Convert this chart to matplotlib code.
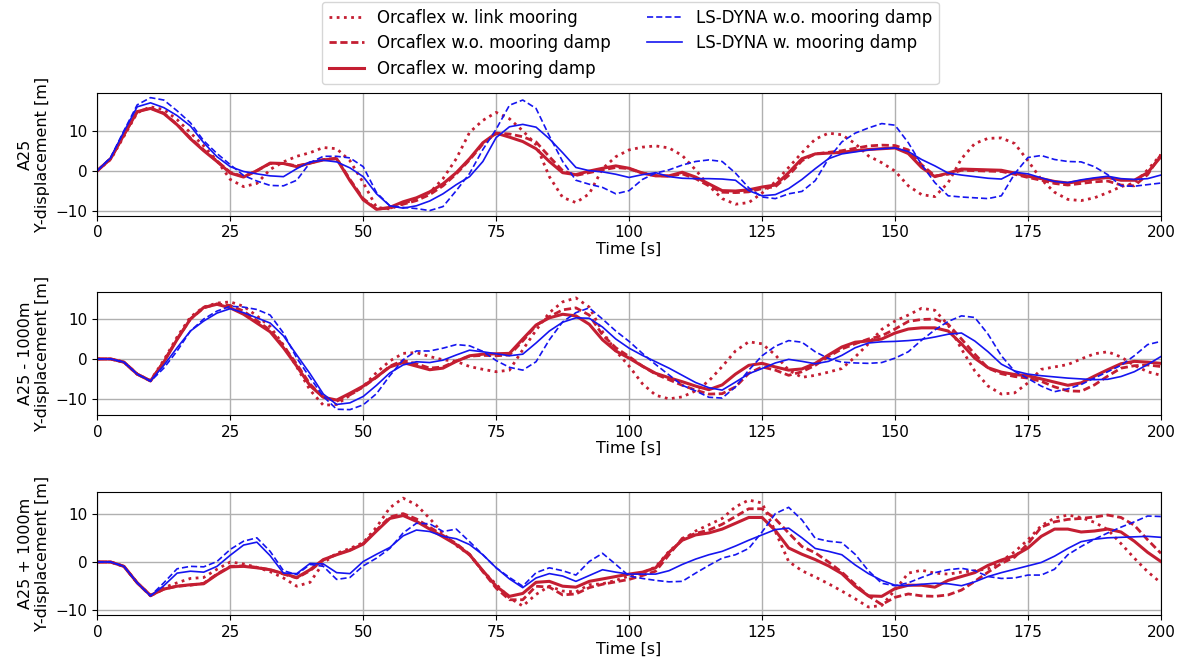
import numpy as np
import matplotlib
matplotlib.use("Agg")
import matplotlib.pyplot as plt

# time axis, seconds
t = np.arange(0, 200.01, 2.5)

# ---- A25 ----
a25_link = [0, 2.8, 8.6, 14.5, 16, 15.3, 12.8, 9.5, 6.2, 2.5, -2.2, -4, -3.2, 0.3, 2.2, 3.6, 4.5,
            5.8, 5.5, 2.5, -3, -9.2, -9.6, -8.3, -7, -5.5, -2, 3, 9.6, 12.6, 14.6, 13, 10, 6.5,
            -1.5, -6.7, -8, -5.8, 0.5, 3.5, 5.2, 5.9, 6.2, 5.7, 3.8, 0.2, -3.8, -7, -8.4, -8,
            -5.6, -2.8, 0.8, 4.5, 7.9, 9.4, 9, 6.8, 3.7, 2, -0.1, -3.8, -6, -6.5, -3, 3, 6.8,
            8.1, 8.2, 6.8, 2.5, -2.2, -5.4, -7.2, -7.5, -6.8, -5.5, -4, -3.1, 0.2, 4]
a25_nodamp = [0, 3, 9, 14.8, 15.7, 14.4, 11.6, 8.2, 5.2, 2.4, -0.4, -1.5, 0, 1.8, 1.8, 1.2, 1.9,
              2.8, 3.1, -2.2, -7, -9.6, -9.4, -8.4, -7.5, -6, -3.8, -0.8, 2.7, 6.7, 9.4, 9.2,
              8.5, 7.2, 3.5, 0, -1.2, -0.5, 0.2, 0.8, 0.5, -0.6, -1.2, -1.4, -0.8, -2, -3.8,
              -5.4, -5.5, -5.3, -4.5, -4, -1.2, 2.5, 4.2, 4.6, 5, 5.6, 6.2, 6.4, 6.3, 5.2, 1.5,
              -1.3, -0.9, 0.1, 0, -0.1, -0.2, -0.9, -1.7, -2.4, -3.2, -3.6, -3.2, -2.8, -2.6,
              -3.6, -3.8, -1, 4]
a25_damp = [0, 3, 9, 14.8, 15.6, 14.3, 11.5, 8, 5, 2.3, -0.6, -1.6, 0, 1.9, 1.8, 1, 1.9, 2.7,
            3, -2.5, -7.3, -9.7, -9.2, -7.8, -6.8, -5.3, -3.3, -0.5, 3, 7, 9.4, 8.4, 7.3, 5.5,
            2.3, -0.5, -1, -0.1, 0.6, 1.2, 0.6, -0.6, -1.3, -1.3, -0.4, -1.6, -3.3, -5, -5.1,
            -4.8, -4.1, -3.6, -0.5, 3, 4.2, 4.4, 4.6, 5, 5.3, 5.5, 5.7, 4.3, 0.8, -1.5, -0.6,
            0.4, 0.3, 0.2, 0.1, -0.6, -1.4, -2, -2.7, -3.1, -2.6, -2.1, -1.7, -2.4, -2.4,
            -0.5, 3.5]
a25_ls_nodamp = [0, 3.3, 10, 16.5, 18.3, 17.7, 15, 12, 7.5, 4.3, 1.5, -1.2, -2.6, -3.7, -3.8,
                 -2.4, 2, 3.6, 3.6, 3.2, 1, -5.5, -8.8, -9.2, -9.5, -10, -9, -5, -0.7, 5.3,
                 10.4, 16.4, 17.7, 15.6, 8.7, 2.3, -2.4, -3.4, -4.2, -5.8, -5, -2.2, -0.6, 0.2,
                 1.4, 2.3, 2.7, 2.3, -0.6, -4.3, -6.6, -7, -5.8, -5.2, -2.5, 3, 7.2, 9.4, 10.7,
                 11.8, 11.4, 7, 1.5, -3, -6.3, -6.6, -6.8, -7, -6.3, -0.8, 3.3, 3.8, 2.8, 2.3,
                 2.2, 1, -1, -3.8, -3.9, -3.5, -3.1]
a25_ls_damp = [0, 3.2, 9.8, 16, 17, 15.8, 13.8, 11.2, 7, 3.5, 1, -0.2, -0.8, -1.3, -1.5, 0.5,
               2.2, 2.6, 2.2, 0.7, -1.5, -5.8, -8.8, -9.4, -8.8, -7.6, -5.8, -3.5, -1.5, 2.3,
               8.3, 11, 11.6, 10.9, 8, 4.5, 0.8, 0, -0.3, -0.9, -1.7, -1, -0.5, -1.5, -1.9, -2,
               -2, -2.1, -2.4, -5, -6.3, -6, -4.5, -2.2, 0.5, 3, 4.2, 4.7, 5.2, 5.5, 5.7, 4.8,
               2.8, 1.2, -0.6, -1.1, -1.5, -1.9, -2.1, -0.4, -0.8, -1.8, -2.7, -3, -2.3, -1.8,
               -1.4, -2, -2.2, -2, -1.1]

# ---- A25 - 1000m ----
m1000_link = [0, 0, -0.8, -3.8, -5.4, -0.3, 5.5, 10.5, 13, 14, 14.3, 13.2, 10.8, 8.1, 3.5, -2,
              -7.8, -11.6, -11.4, -9.1, -6.9, -3.4, -0.5, 1.4, 1.6, 0.6, -0.2, -0.6, -1.9, -2.6,
              -3.2, -2.8, 2.3, 7.2, 11.6, 14.3, 15.3, 13, 6.8, 2, -1.8, -6.2, -9.1, -10, -9.5,
              -8, -5.5, -1.9, 2, 4.3, 3.8, 1, -2.8, -4.6, -4.1, -3.3, -2.4, 0.5, 3.8, 7.4, 9.5,
              11, 12.7, 12.2, 8.5, 2.5, -3, -6.8, -8.8, -8.5, -6, -2.6, -2, -1.4, 0, 1.3, 1.8,
              0.5, -1.6, -3.2, -4.1]
m1000_nodamp = [0, 0, -0.8, -3.8, -5.5, -0.6, 5, 10, 12.8, 13.8, 13.4, 12, 9.6, 7.2, 3.3, -1.3,
                -6.3, -9.6, -10.6, -9, -7, -4.6, -1.8, -0.4, -1.2, -2.3, -2, -0.5, 0.7, 0.9,
                0.8, 1, 4.5, 8.4, 10.6, 12.3, 12.8, 11, 6, 2.8, 0.6, -1.8, -3.8, -5.2, -6.6,
                -7.8, -8.8, -8.7, -7, -3.6, -2, -2.8, -4.1, -3.2, -1.6, 0.6, 2.5, 3.8, 5, 5.8,
                7.5, 9.4, 9.9, 10, 8.7, 5, 1.2, -2.3, -3.7, -4.4, -4.8, -5.6, -7, -8, -8.1,
                -6.5, -4.3, -2.3, -1.7, -1.5, -1.9]
m1000_damp = [0, 0, -0.8, -3.8, -5.5, -0.8, 4.9, 10, 12.9, 13.7, 12.8, 11.2, 9, 6.8, 2.8, -1.8,
              -6.7, -9.6, -10.3, -8.6, -6.8, -4.5, -2, -0.9, -1.8, -2.7, -2.3, -0.6, 0.8, 1.2,
              1.3, 1.4, 5, 8.5, 10.3, 11.2, 10.8, 8.7, 4.8, 2, 0.2, -1.8, -3.6, -4.7, -5.7,
              -6.8, -7.7, -6.5, -3.8, -1.6, -1.1, -2, -2.8, -2.5, -1.1, 1, 3, 4.2, 4.5, 5, 6.5,
              7.5, 7.8, 7.8, 7, 3.8, 0.2, -2.2, -3.3, -3.9, -4.2, -5, -5.8, -6.6, -6, -4.3,
              -2.7, -1.2, -0.6, -0.8, -1.1]
m1000_ls_nodamp = [0, 0, -0.8, -3.8, -5.6, -2.3, 2, 7, 10, 12, 13.2, 13, 12.4, 11, 6.5, 0.2,
                   -4.7, -9.4, -12.6, -12.7, -11.5, -8.7, -4.2, -0.2, 2, 2, 2.7, 3.6, 3.3, 1.9,
                   -0.4, -2.1, -2.8, -0.7, 4.8, 9.3, 11.6, 12.8, 10, 7, 4.4, 1.4, -1.4, -4,
                   -6.6, -8, -9.6, -9.8, -7, -2.8, 0.8, 3.2, 4.6, 4.2, 1.8, 0.1, -0.8, -1, -1.1,
                   -0.9, 0.2, 1.8, 4.7, 7.3, 9.4, 10.8, 10.4, 6.2, 0.8, -3.1, -4.9, -6.8, -8.2,
                   -7.5, -6.4, -4.8, -3.2, -1.6, 0.8, 3.6, 4.4]
m1000_ls_damp = [0, 0, -0.8, -3.8, -5.5, -1.6, 2.8, 7, 9.5, 11.5, 12.6, 11.6, 10.3, 9, 5.8, 1,
                 -3.7, -8.8, -11.4, -11, -9.4, -6.6, -3.5, -1.5, -0.7, -0.9, -0.3, 1, 2.2, 1.8,
                 1.3, 0.8, 1.2, 4, 7, 9.2, 10.3, 10.2, 8, 5, 2.7, 0.9, -0.7, -2.3, -4.1, -5.9,
                 -7.2, -7.8, -5.8, -3.7, -2.4, -1, -0.1, -0.6, -1.2, -0.6, 0.9, 2.8, 4, 4.3, 4.4,
                 4.6, 4.9, 5.5, 6.2, 6.5, 4.5, 1.8, -1.3, -3, -3.8, -4.2, -4.5, -4.8, -5, -5.2,
                 -5.1, -4.4, -3.2, -1.4, 0.6]

# ---- A25 + 1000m ----
p1000_link = [0, 0, -0.9, -4.3, -6.9, -5.3, -4.3, -3.4, -3.2, -1.5, 0, -0.4, -1.1, -2, -3.3,
              -5, -4.2, -0.2, 1.8, 2.8, 4, 7.2, 11.2, 13.2, 11.8, 9, 5.9, 3.4, 1.5, -1.9, -4.6,
              -7.4, -9.1, -6.7, -5, -6, -6.2, -4.7, -4.5, -3.8, -2.9, -2.3, -1, 2.2, 4.5, 6.4,
              7.7, 9, 11.4, 12.8, 12.2, 6.3, 0.1, -1.8, -3.1, -4.5, -6, -7.6, -9.3, -9, -5.8,
              -2.3, -1.7, -2.3, -2.5, -2.1, -1.8, -1.4, 0.2, 2.1, 4.6, 7.5, 9.1, 9.7, 9.2, 8.2,
              6.7, 3.8, 0.8, -2, -4.3]
p1000_nodamp = [0, 0, -0.9, -4.3, -7, -5.6, -5, -4.8, -4.4, -2.5, -0.9, -0.8, -1.1, -1.6, -2.5,
                -3.3, -1.8, 0.4, 1.6, 2.5, 3.8, 6.6, 9.3, 10, 8.9, 7.2, 5.5, 3.8, 1.6, -2, -5.4,
                -7.8, -7.8, -5, -5.2, -6.8, -6.6, -5.3, -4.6, -4.1, -3.6, -2.8, -1.9, 1.5, 4.9,
                5.9, 6.6, 7.8, 9.4, 11, 11, 8.9, 6, 3.2, 1.9, 0, -2.1, -4.6, -7, -8.8, -7.3,
                -6.6, -7, -7.1, -6.8, -5.8, -4, -2.1, -0.3, 1, 3.8, 7.2, 8.3, 8.8, 9, 9.3, 9.7,
                9.2, 7.6, 4.6, 1.8]
p1000_damp = [0, 0, -0.9, -4.3, -6.9, -5.6, -5, -4.7, -4.5, -2.6, -1, -0.9, -1.2, -1.6, -2.4,
              -3.2, -1.6, 0.5, 1.5, 2.4, 3.7, 6.4, 9, 9.6, 8.4, 6.8, 5.2, 3.6, 1.5, -1.8, -5,
              -7.1, -6.5, -4.2, -4, -5, -5.2, -4, -3.5, -3, -2.5, -2.1, -1.2, 2, 4.5, 5.6, 6,
              6.8, 8, 9.2, 9.2, 6.5, 2.9, 1.6, 0.5, -0.8, -2.4, -5, -7, -7.1, -5.5, -4.8, -4.8,
              -5.2, -3.8, -3, -2.2, -0.7, 0.4, 1.3, 2.9, 5.3, 6.8, 6.8, 6.2, 6.4, 6.8, 6.2, 4.3,
              2, 0.1]
p1000_ls_nodamp = [0, 0, -0.9, -4.3, -7, -4.3, -1.4, -0.9, -1, 0.1, 2.6, 4.3, 5, 2.2, -1.8,
                   -2.6, -0.5, -0.9, -3.6, -3.2, -0.8, 0.8, 2.8, 6, 8, 7.9, 6.3, 6.8, 4.2, 1.5,
                   -1.2, -3.2, -5, -2.2, -1.2, -1.8, -2.7, 0.1, 1.8, -0.5, -2.9, -3.4, -3.8,
                   -4.1, -4, -2.3, -0.7, 0.8, 1.5, 2.8, 6.2, 10, 11.3, 8.7, 4.9, 4.3, 4, 1.6,
                   -1.8, -4.4, -4.9, -4.3, -3.2, -2.2, -1.6, -1.3, -1.8, -3, -3.4, -3.3, -2.7,
                   -2.7, -1.5, 1.5, 3.2, 4.7, 6, 7.2, 8.3, 9.5, 9.4]
p1000_ls_damp = [0, 0, -0.9, -4.3, -7, -4.9, -2.3, -1.9, -2.1, -0.9, 1.4, 3.5, 4.1, 1.3, -2.3,
                 -2.4, -0.3, -0.4, -2.2, -2.4, 0.1, 1.6, 3, 5.4, 6.6, 6.3, 5.3, 4.8, 3.6, 1.5,
                 -1.2, -3.5, -5.3, -3.3, -2.4, -2.9, -4, -2.8, -1.6, -2.1, -2.5, -2.5, -2.5,
                 -1.8, -0.5, 0.6, 1.5, 2.2, 3.3, 4.5, 5.6, 6.7, 7, 5, 2.8, 2.2, 1.5, -0.6, -2.4,
                 -3.8, -4.8, -4.9, -4.6, -4.4, -4.5, -4.9, -4.1, -3, -2.2, -1.5, -0.8, -0.1,
                 1.2, 2.8, 4.2, 4.7, 5, 5.1, 5.2, 5.3, 5.1]

labels = ["Orcaflex w. link mooring", "Orcaflex w.o. mooring damp", "Orcaflex w. mooring damp",
          "LS-DYNA w.o. mooring damp", "LS-DYNA w. mooring damp"]
panel_names = ["A25", "A25 - 1000m", "A25 + 1000m"]
panels = [
    [a25_link, a25_nodamp, a25_damp, a25_ls_nodamp, a25_ls_damp],
    [m1000_link, m1000_nodamp, m1000_damp, m1000_ls_nodamp, m1000_ls_damp],
    [p1000_link, p1000_nodamp, p1000_damp, p1000_ls_nodamp, p1000_ls_damp],
]
ylims = [(-11.3, 19.5), (-14, 16.8), (-11, 14.4)]

red = "#c41e32"
blue = "#1515f0"
styles = [
    dict(color=red, ls=(0, (1, 1.6)), lw=2.0),
    dict(color=red, ls=(0, (2.6, 1.3)), lw=2.0),
    dict(color=red, ls="-", lw=2.2),
    dict(color=blue, ls=(0, (3.7, 1.8)), lw=1.2),
    dict(color=blue, ls="-", lw=1.2),
]

fig = plt.figure(figsize=(11.87, 6.68), dpi=100)
tops = [0.861, 0.563, 0.263]
h = 0.184
handles = []
for k in range(3):
    ax = fig.add_axes([0.082, tops[k] - h, 0.896, h])
    for j in range(5):
        ln, = ax.plot(t, panels[k][j], label=labels[j], **styles[j])
        if k == 0:
            handles.append(ln)
    ax.set_xlim(0, 200)
    ax.set_ylim(*ylims[k])
    ax.set_xticks(np.arange(0, 201, 25))
    ax.set_yticks([-10, 0, 10])
    ax.grid(True, color="#b0b0b0", lw=1.0)
    ax.tick_params(labelsize=11)
    ax.set_xlabel("Time [s]", fontsize=11.5, labelpad=1)
    ax.set_ylabel(panel_names[k] + "\nY-displacement [m]", fontsize=11.5)

fig.legend(handles=handles, loc="upper center", ncol=2, bbox_to_anchor=(0.531, 0.997),
           fontsize=12, frameon=True, handlelength=2.1, columnspacing=2.2,
           borderaxespad=0.0, labelspacing=0.45)

plt.savefig("out.png", dpi=100)
